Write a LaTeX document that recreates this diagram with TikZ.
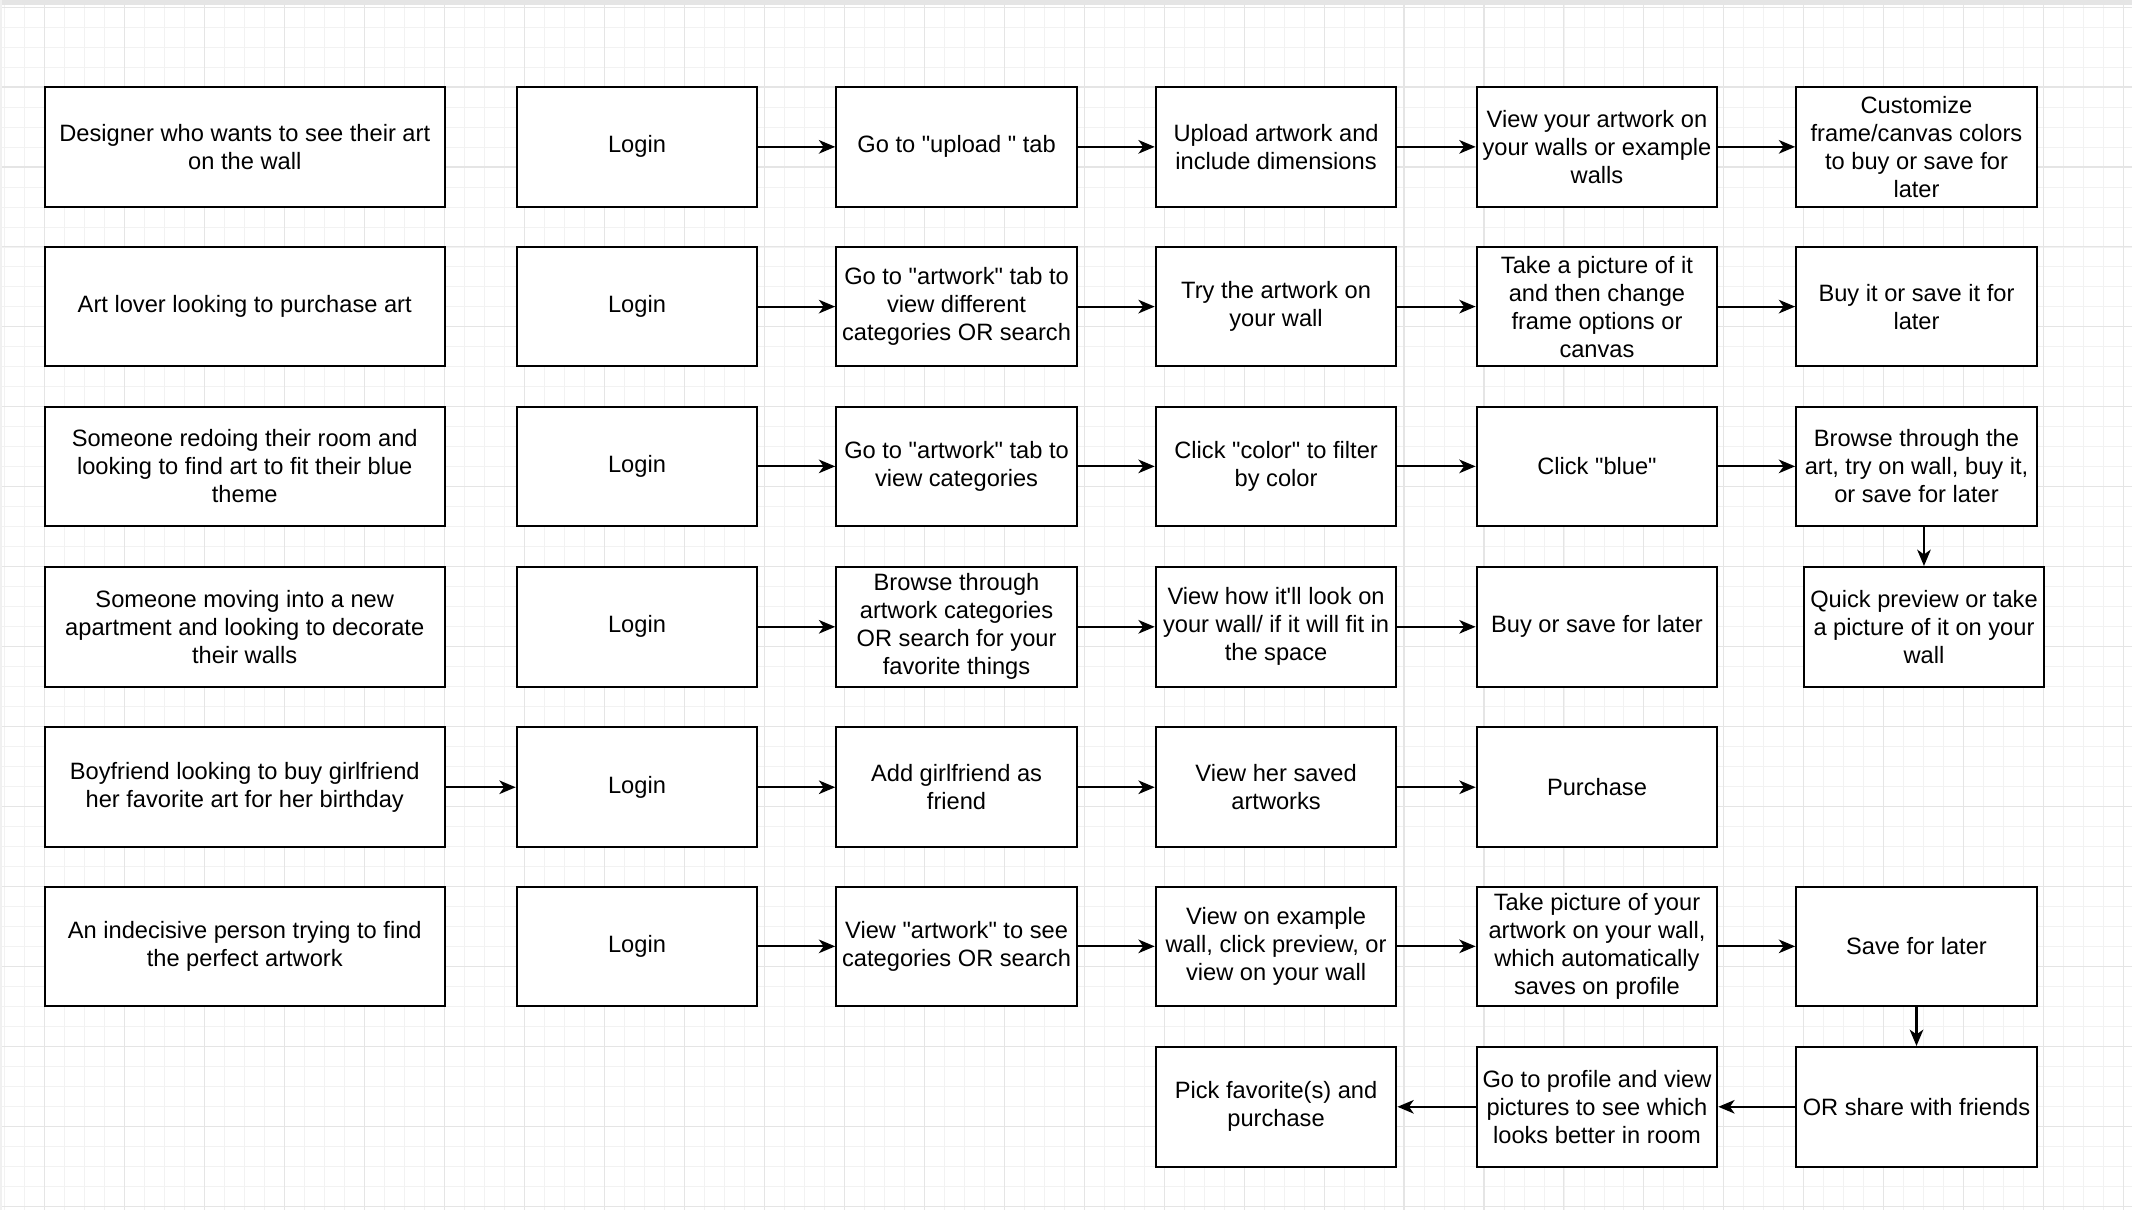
\documentclass[tikz,border=0pt]{standalone}
\usepackage{fontspec}
\newfontfamily\lsans{Liberation Sans}
\usetikzlibrary{arrows.meta}
\tikzset{
  minorgrid/.style={draw=black!5, line width=0.6pt},
  majorgrid/.style={draw=black!10, line width=0.8pt},
  box/.style={draw, line width=1.5pt, minimum width=177pt, minimum height=88pt,
    align=center, inner sep=0pt, fill=white, font=\lsans\fontsize{17.4}{20.6}\selectfont},
  widebox/.style={box, minimum width=294pt},
  arr/.style={-{Stealth[length=12pt,width=10pt,inset=3.5pt]}, line width=1.5pt}
}
\begin{document}
\begin{tikzpicture}[x=1pt,y=-1pt]
\fill[white] (0,0) rectangle (1568,890);
\useasboundingbox (0,0) rectangle (1568,890);
% grid
\foreach \i in {0,...,106} { \draw[minorgrid] ({3.6+\i*14.7},4) -- ({3.6+\i*14.7},890); }
\foreach \i in {0,...,60} { \draw[minorgrid] (0,{5.2+\i*14.7}) -- (1568,{5.2+\i*14.7}); }
\foreach \i in {0,...,26} { \draw[majorgrid] ({33+\i*58.8},4) -- ({33+\i*58.8},890); }
\foreach \i in {0,...,15} { \draw[majorgrid] (0,{5.2+\i*58.8}) -- (1568,{5.2+\i*58.8}); }
\fill[black!10] (0,0) rectangle (1568,4);
\fill[black!6] (0,0) rectangle (1.5,890);

% row 1
\node[widebox] (p1) at (180,108) {Designer who wants to see their art\\on the wall};
\node[box] (l1) at (468.5,108) {Login};
\node[box] (a1) at (703.5,108) {Go to "upload " tab};
\node[box] (b1) at (938.5,108) {Upload artwork and\\include dimensions};
\node[box] (c1) at (1174.5,108) {View your artwork on\\your walls or example\\walls};
\node[box] (d1) at (1409.5,108) {Customize\\frame/canvas colors\\to buy or save for\\later};
% row 2
\node[widebox] (p2) at (180,225.5) {Art lover looking to purchase art};
\node[box] (l2) at (468.5,225.5) {Login};
\node[box] (a2) at (703.5,225.5) {Go to "artwork" tab to\\view different\\categories OR search};
\node[box] (b2) at (938.5,225.5) {Try the artwork on\\your wall};
\node[box] (c2) at (1174.5,225.5) {Take a picture of it\\and then change\\frame options or\\canvas};
\node[box] (d2) at (1409.5,225.5) {Buy it or save it for\\later};
% row 3
\node[widebox] (p3) at (180,343) {Someone redoing their room and\\looking to find art to fit their blue\\theme};
\node[box] (l3) at (468.5,343) {Login};
\node[box] (a3) at (703.5,343) {Go to "artwork" tab to\\view categories};
\node[box] (b3) at (938.5,343) {Click "color" to filter\\by color};
\node[box] (c3) at (1174.5,343) {Click "blue"};
\node[box] (d3) at (1409.5,343) {Browse through the\\art, try on wall, buy it,\\or save for later};
% row 4
\node[widebox] (p4) at (180,461) {Someone moving into a new\\apartment and looking to decorate\\their walls};
\node[box] (l4) at (468.5,461) {Login};
\node[box] (a4) at (703.5,461) {Browse through\\artwork categories\\OR search for your\\favorite things};
\node[box] (b4) at (938.5,461) {View how it'll look on\\your wall/ if it will fit in\\the space};
\node[box] (c4) at (1174.5,461) {Buy or save for later};
\node[box] (d4) at (1415,461) {Quick preview or take\\a picture of it on your\\wall};
% row 5
\node[widebox] (p5) at (180,579) {Boyfriend looking to buy girlfriend\\her favorite art for her birthday};
\node[box] (l5) at (468.5,579) {Login};
\node[box] (a5) at (703.5,579) {Add girlfriend as\\friend};
\node[box] (b5) at (938.5,579) {View her saved\\artworks};
\node[box] (c5) at (1174.5,579) {Purchase};
% row 6
\node[widebox] (p6) at (180,696) {An indecisive person trying to find\\the perfect artwork};
\node[box] (l6) at (468.5,696) {Login};
\node[box] (a6) at (703.5,696) {View "artwork" to see\\categories OR search};
\node[box] (b6) at (938.5,696) {View on example\\wall, click preview, or\\view on your wall};
\node[box] (c6) at (1174.5,696) {Take picture of your\\artwork on your wall,\\which automatically\\saves on profile};
\node[box] (d6) at (1409.5,696) {Save for later};
% row 7
\node[box] (b7) at (938.5,814) {Pick favorite(s) and\\purchase};
\node[box] (c7) at (1174.5,814) {Go to profile and view\\pictures to see which\\looks better in room};
\node[box] (d7) at (1409.5,814) {OR share with friends};

% arrows
\draw[arr] (l1) -- (a1); \draw[arr] (a1) -- (b1); \draw[arr] (b1) -- (c1); \draw[arr] (c1) -- (d1);
\draw[arr] (l2) -- (a2); \draw[arr] (a2) -- (b2); \draw[arr] (b2) -- (c2); \draw[arr] (c2) -- (d2);
\draw[arr] (l3) -- (a3); \draw[arr] (a3) -- (b3); \draw[arr] (b3) -- (c3); \draw[arr] (c3) -- (d3);
\draw[arr] (d3.south -| d4.north) -- (d4.north);
\draw[arr] (l4) -- (a4); \draw[arr] (a4) -- (b4); \draw[arr] (b4) -- (c4);
\draw[arr] (p5) -- (l5); \draw[arr] (l5) -- (a5); \draw[arr] (a5) -- (b5); \draw[arr] (b5) -- (c5);
\draw[arr] (l6) -- (a6); \draw[arr] (a6) -- (b6); \draw[arr] (b6) -- (c6); \draw[arr] (c6) -- (d6);
\draw[arr] (d6) -- (d7);
\draw[arr] (d7) -- (c7); \draw[arr] (c7) -- (b7);
\end{tikzpicture}
\end{document}
